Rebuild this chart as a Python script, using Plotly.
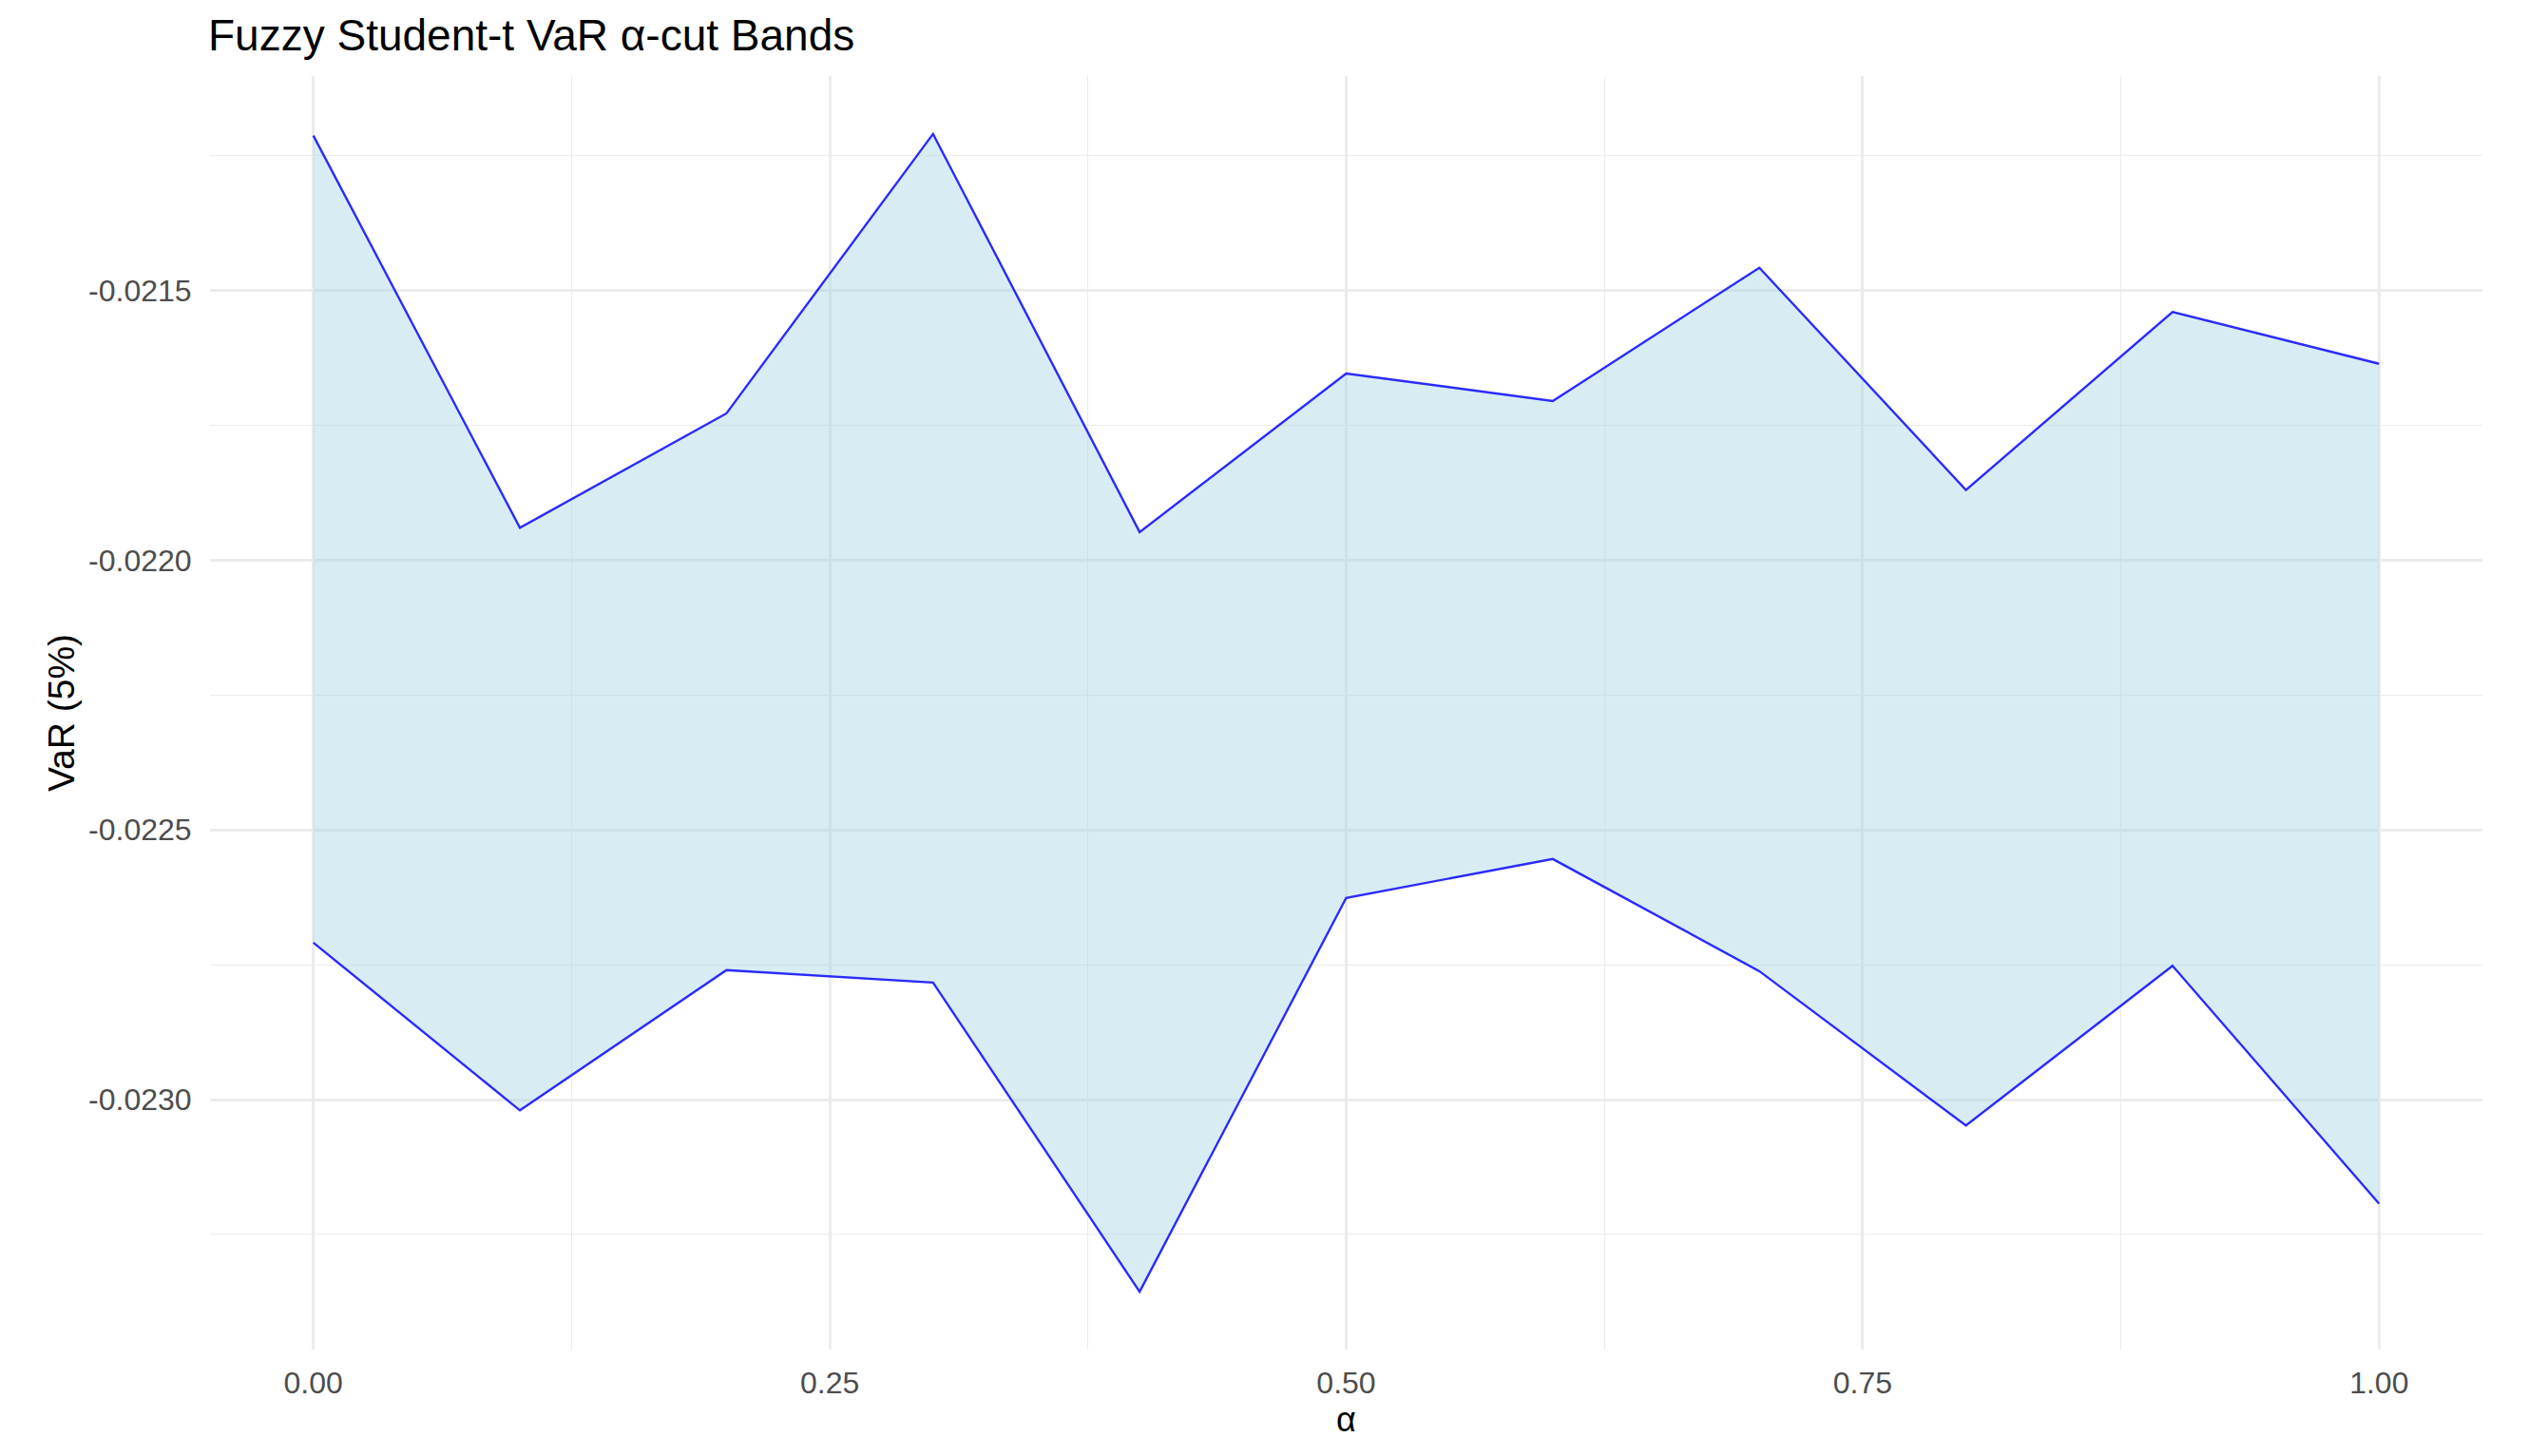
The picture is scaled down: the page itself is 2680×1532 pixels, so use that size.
import plotly.graph_objects as go

alpha = [0.0, 0.1, 0.2, 0.3, 0.4, 0.5, 0.6, 0.7, 0.8, 0.9, 1.0]
var_upper = [-0.021213, -0.021940, -0.021728, -0.021210, -0.021948, -0.021654,
             -0.021705, -0.021458, -0.021870, -0.021540, -0.021636]
var_lower = [-0.022709, -0.023020, -0.022760, -0.022783, -0.023356, -0.022626,
             -0.022554, -0.022762, -0.023048, -0.022752, -0.023193]

x_tickvals = [0.0, 0.25, 0.5, 0.75, 1.0]
x_ticktext = ["0.00", "0.25", "0.50", "0.75", "1.00"]
y_tickvals = [-0.0215, -0.0220, -0.0225, -0.0230]
y_ticktext = ["-0.0215", "-0.0220", "-0.0225", "-0.0230"]

FONT = "Liberation Sans, Arial, sans-serif"
GRID = "#EBEBEB"
W, H = 2664, 1516

fig = go.Figure()
fig.add_trace(go.Scatter(x=alpha, y=var_lower, mode="lines",
                         line=dict(color="#2A2AFF", width=2.4),
                         showlegend=False, hoverinfo="x+y"))
fig.add_trace(go.Scatter(x=alpha, y=var_upper, mode="lines",
                         line=dict(color="#2A2AFF", width=2.4),
                         fill="tonexty", fillcolor="rgba(173,216,230,0.47)",
                         showlegend=False, hoverinfo="x+y"))

span = max(var_upper) - min(var_lower)
yr = [min(var_lower) - 0.05 * span, max(var_upper) + 0.05 * span]

fig.update_layout(
    width=W, height=H,
    margin=dict(l=213, r=60, t=72, b=104),
    paper_bgcolor="white", plot_bgcolor="white",
    font=dict(family=FONT, color="black"),
    title=dict(text="Fuzzy Student-t VaR α-cut Bands", x=211 / W, xref="container",
               xanchor="left", y=1 - 29 / H, yref="container", yanchor="middle",
               font=dict(size=46, color="black", family=FONT)),
    xaxis=dict(range=[-0.05, 1.05], tickvals=x_tickvals, ticktext=x_ticktext,
               showgrid=True, gridcolor=GRID, gridwidth=2.5, zeroline=False,
               showline=False, ticks="outside", ticklen=7, tickcolor="rgba(0,0,0,0)",
               tickfont=dict(size=32, color="#4D4D4D", family=FONT),
               minor=dict(dtick=0.125, tick0=0, showgrid=True, gridcolor=GRID, gridwidth=1.2),
               title=dict(text="α", font=dict(size=36, color="black", family=FONT), standoff=0)),
    yaxis=dict(range=yr, tickvals=y_tickvals, ticktext=y_ticktext,
               showgrid=True, gridcolor=GRID, gridwidth=2.5, zeroline=False,
               showline=False, ticks="outside", ticklen=12, tickcolor="rgba(0,0,0,0)",
               tickfont=dict(size=32, color="#4D4D4D", family=FONT),
               minor=dict(dtick=0.00025, tick0=-0.0215, showgrid=True, gridcolor=GRID, gridwidth=1.2),
               title=dict(text="VaR (5%)", font=dict(size=39, color="black", family=FONT), standoff=2)),
)

fig.write_html("out.html")
